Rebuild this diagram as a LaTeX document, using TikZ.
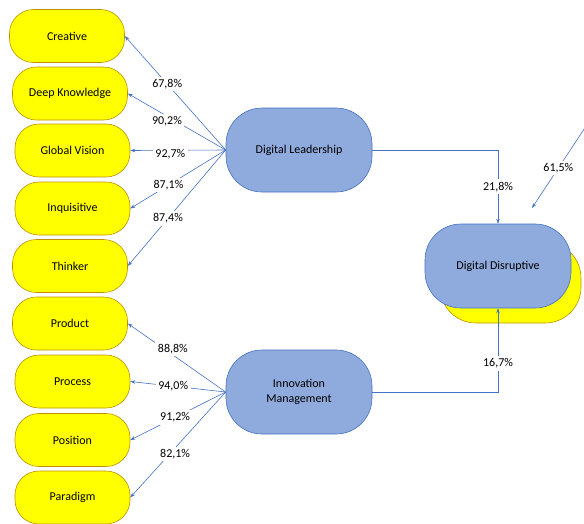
\documentclass[tikz,border=0pt]{standalone}
\usepackage{fontspec}
\setmainfont{Carlito}
\usetikzlibrary{arrows.meta}
\definecolor{boxyellow}{RGB}{255,255,0}
\definecolor{boxgold}{RGB}{191,144,0}
\definecolor{boxblue}{RGB}{143,170,220}
\definecolor{lineblue}{RGB}{68,114,196}
\tikzset{
  dimbox/.style={draw=boxgold, fill=boxyellow, line width=0.6pt, rounded corners=24pt,
    minimum width=115pt, minimum height=53pt, font=\fontsize{12}{14}\selectfont},
  varbox/.style={draw=lineblue, fill=boxblue, line width=0.6pt, rounded corners=36pt,
    minimum width=146pt, minimum height=84pt, align=center, font=\fontsize{12}{15}\selectfont},
  load/.style={draw=lineblue, line width=0.6pt, -{Stealth[length=5pt,width=3.5pt]}},
  val/.style={fill=white, inner sep=2.5pt, font=\fontsize{12}{14}\selectfont}
}
\begin{document}
\begin{tikzpicture}[x=1pt, y=-1pt]
  \useasboundingbox (0,0) rectangle (584,523);
  \clip (0,0) rectangle (584,523);
  % dimensions of digital leadership
  \node[dimbox] (creative) at (67,36) {Creative};
  \node[dimbox] (deep) at (70,93.5) {Deep Knowledge};
  \node[dimbox] (global) at (72.5,150.5) {Global Vision};
  \node[dimbox] (inquis) at (72.5,208.5) {Inquisitive};
  \node[dimbox] (thinker) at (70,266) {Thinker};
  % dimensions of innovation management
  \node[dimbox] (product) at (70,323.5) {Product};
  \node[dimbox] (process) at (72.5,381.5) {Process};
  \node[dimbox] (position) at (72.5,440) {Position};
  \node[dimbox] (paradigm) at (72.5,497.5) {Paradigm};
  % latent variables
  \node[varbox] (lead) at (299,150) {Digital Leadership};
  \node[varbox] (innov) at (299,392) {Innovation\\Management};
  \node[dimbox, minimum width=141pt, minimum height=81pt, rounded corners=36pt] (ddshadow) at (510.5,282.5) {};
  \node[varbox] (disrupt) at (498,266) {Digital Disruptive};
  \coordinate (resid) at (598,108);
  % loadings
  \draw[load] (lead.west) -- (creative.east) node[val, pos=0.58] {67,8\%};
  \draw[load] (lead.west) -- (deep.east) node[val, pos=0.6, yshift=-5pt] {90,2\%};
  \draw[load] (lead.west) -- (global.east) node[val, pos=0.58, yshift=-4pt] {92,7\%};
  \draw[load] (lead.west) -- (inquis.east) node[val, pos=0.6] {87,1\%};
  \draw[load] (lead.west) -- (thinker.east) node[val, pos=0.59] {87,4\%};
  \draw[load] (innov.west) -- (product.east) node[val, pos=0.54, yshift=6pt] {88,8\%};
  \draw[load] (innov.west) -- (process.east) node[val, pos=0.55] {94,0\%};
  \draw[load] (innov.west) -- (position.east) node[val, pos=0.53] {91,2\%};
  \draw[load] (innov.west) -- (paradigm.east) node[val, pos=0.53, yshift=-6pt] {82,1\%};
  % paths
  \draw[load] (lead.east) -| (disrupt.north) node[val, pos=0.75] {21,8\%};
  \draw[load] (innov.east) -| (disrupt.south) node[val, pos=0.67] {16,7\%};
  \draw[load] (resid) -- (532,208) node[val, pos=0.6] {61,5\%};
\end{tikzpicture}
\end{document}
